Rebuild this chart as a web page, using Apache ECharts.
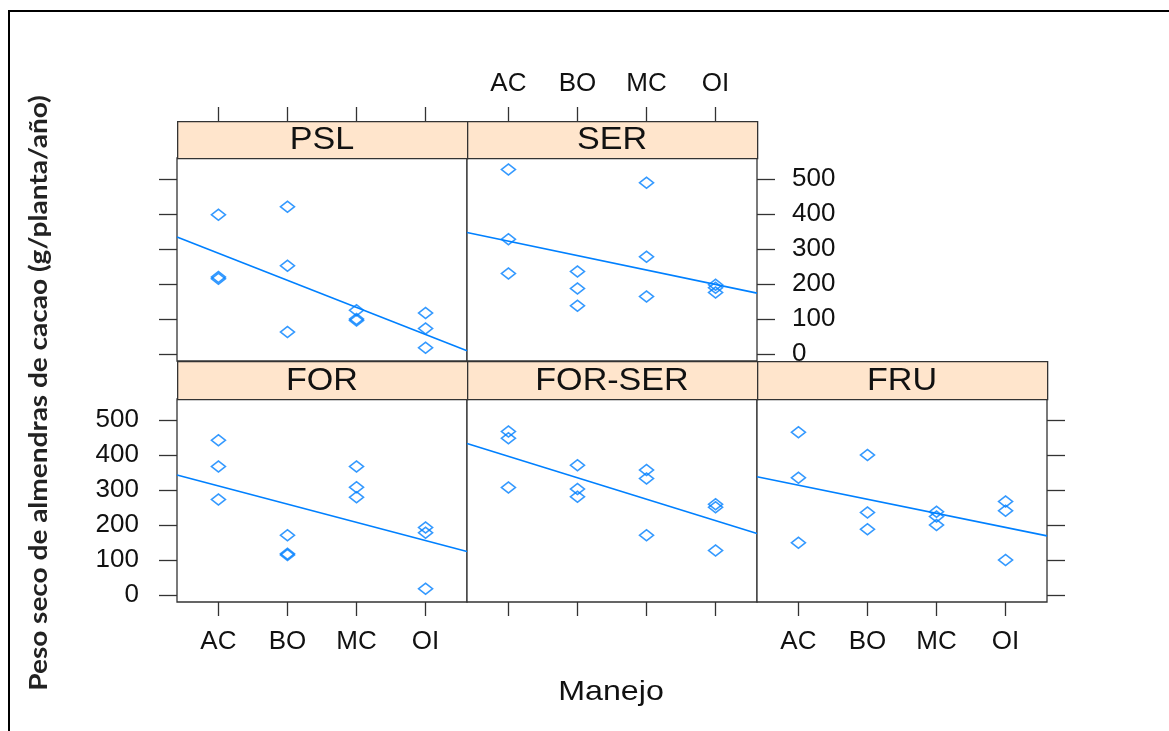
<!DOCTYPE html>
<html>
<head>
<meta charset="UTF-8">
<title>Peso seco de almendras de cacao</title>
<script src="https://cdn.jsdelivr.net/npm/echarts@6/dist/echarts.min.js"></script>
<style>
	html, body { margin:0; padding:0; background:#fff; }
	#chart { width:1169px; height:731px; }
</style>
</head>
<body>
<div id="chart"></div>
<script>
// categorias del eje x (manejo)
var categories = ['AC', 'BO', 'MC', 'OI'];
var yTicks = [0, 100, 200, 300, 400, 500];

// valores por panel: una lista por categoria (AC, BO, MC, OI)
var pslValues    = [[398, 220, 215], [421, 252, 63], [125, 100, 96], [117, 73, 18]];
var serValues    = [[527, 328, 230], [236, 187, 138], [489, 278, 164], [198, 189, 176]];
var forValues    = [[442, 367, 273], [171, 118, 114], [367, 308, 279], [193, 178, 18]];
var forSerValues = [[467, 448, 307], [371, 303, 281], [357, 333, 171], [259, 251, 127]];
var fruValues    = [[465, 335, 149], [400, 236, 188], [238, 224, 200], [267, 241, 100]];

// recta de regresion: valor en los extremos del panel (x = 0.4 y x = 4.6)
var fitX      = [0.4, 4.6];
var pslFit    = [334, 9];
var serFit    = [347, 174];
var forFit    = [343, 124];
var forSerFit = [433, 176];
var fruFit    = [338, 169];

var BLUE = '#0080ff';
var FRAME = '#333333';
var FONT = '"Liberation Sans", Arial, sans-serif';

// disposicion tipo lattice
var colX = [177, 467, 757];
var panelW = 290;
var rowTop = [158, 399];
var stripTop = [121, 361];
var panelH = 203;

var panels = [
	{ name:'PSL',     values:pslValues,    fit:pslFit,    col:0, row:0, x:'top',    xLab:false, y:'left',  yLab:false },
	{ name:'SER',     values:serValues,    fit:serFit,    col:1, row:0, x:'top',    xLab:true,  y:'right', yLab:true  },
	{ name:'FOR',     values:forValues,    fit:forFit,    col:0, row:1, x:'bottom', xLab:true,  y:'left',  yLab:true  },
	{ name:'FOR-SER', values:forSerValues, fit:forSerFit, col:1, row:1, x:'bottom', xLab:false, y:null,    yLab:false },
	{ name:'FRU',     values:fruValues,    fit:fruFit,    col:2, row:1, x:'bottom', xLab:true,  y:'right', yLab:false }
];

function points(values) {
	var out = [];
	values.forEach(function (vals, i) {
		vals.forEach(function (v) { out.push([i + 1, v]); });
	});
	return out;
}

var grid = [], xAxis = [], yAxis = [], series = [], graphic = [];

panels.forEach(function (p, i) {
	var left = colX[p.col], top = rowTop[p.row], sTop = stripTop[p.row];
	var stripH = top - sTop;
	grid.push({
		left:left, top:top, width:panelW, height:panelH,
		show:true, borderColor:FRAME, borderWidth:1.3, backgroundColor:'#fff'
	});
	// el eje superior queda por encima de la tira: se alarga y la tira tapa el tramo interior
	var isTop = p.x === 'top';
	xAxis.push({
		gridIndex:i, type:'value', min:0.4, max:4.6, position:p.x,
		axisLine:{ show:false, onZero:false }, splitLine:{ show:false },
		axisTick:{ show:true, length:isTop ? 14 + stripH : 14, customValues:[1, 2, 3, 4], lineStyle:{ color:FRAME, width:1.3 } },
		axisLabel:{
			show:p.xLab, customValues:[1, 2, 3, 4], margin:isTop ? 24 + stripH : 27,
			fontFamily:FONT, fontSize:26, color:'#111',
			formatter:function (v) { return categories[Math.round(v) - 1]; }
		}
	});
	yAxis.push({
		gridIndex:i, type:'value', min:-20, max:560, position:p.y || 'left',
		axisLine:{ show:false, onZero:false }, splitLine:{ show:false },
		axisTick:{ show:!!p.y, length:18, customValues:yTicks, lineStyle:{ color:FRAME, width:1.3 } },
		axisLabel:{
			show:p.yLab, customValues:yTicks, margin:p.y === 'right' ? 35 : 38,
			fontFamily:FONT, fontSize:26, color:'#111'
		}
	});
	series.push({
		type:'scatter', xAxisIndex:i, yAxisIndex:i,
		data:points(p.values),
		symbol:'diamond', symbolSize:[14, 11],
		itemStyle:{ color:'rgba(0,0,0,0)', borderColor:BLUE, borderWidth:1.6 },
		silent:true
	});
	series.push({
		type:'line', xAxisIndex:i, yAxisIndex:i,
		data:[[fitX[0], p.fit[0]], [fitX[1], p.fit[1]]],
		showSymbol:false, lineStyle:{ color:BLUE, width:1.6 }, silent:true
	});
	// tira con el nombre del panel
	graphic.push({
		type:'rect', left:left, top:sTop, z:50,
		shape:{ width:panelW, height:stripH },
		style:{ fill:'#ffe5cc', stroke:FRAME, lineWidth:1.3 }
	});
	graphic.push({
		type:'text', x:left + panelW / 2, y:sTop + stripH / 2 + 1, z:51, scaleX:1.1,
		style:{ text:p.name, font:'31px ' + FONT, fill:'#111', textAlign:'center', textVerticalAlign:'middle' }
	});
});

// titulos de los ejes y marco exterior
graphic.push({
	type:'text', x:39, y:393, rotation:Math.PI / 2, scaleX:1.12, z:60,
	style:{ text:'Peso seco de almendras de cacao (g/planta/año)', font:'bold 25px Lato, "Open Sans", sans-serif',
		fill:'#222', textAlign:'center', textVerticalAlign:'middle' }
});
graphic.push({
	type:'text', x:611, y:692, scaleX:1.15, z:60,
	style:{ text:'Manejo', font:'28px ' + FONT, fill:'#111', textAlign:'center', textVerticalAlign:'middle' }
});
graphic.push({
	type:'polyline', z:60,
	shape:{ points:[[9, 731], [9, 11], [1169, 11]] },
	style:{ stroke:'#000', lineWidth:2, fill:null }
});

var myChart = echarts.init(document.getElementById('chart'));
myChart.setOption({
	animation:false,
	grid:grid,
	xAxis:xAxis,
	yAxis:yAxis,
	series:series,
	graphic:graphic
});
window.addEventListener('resize', function () { myChart.resize(); });
</script>
</body>
</html>
